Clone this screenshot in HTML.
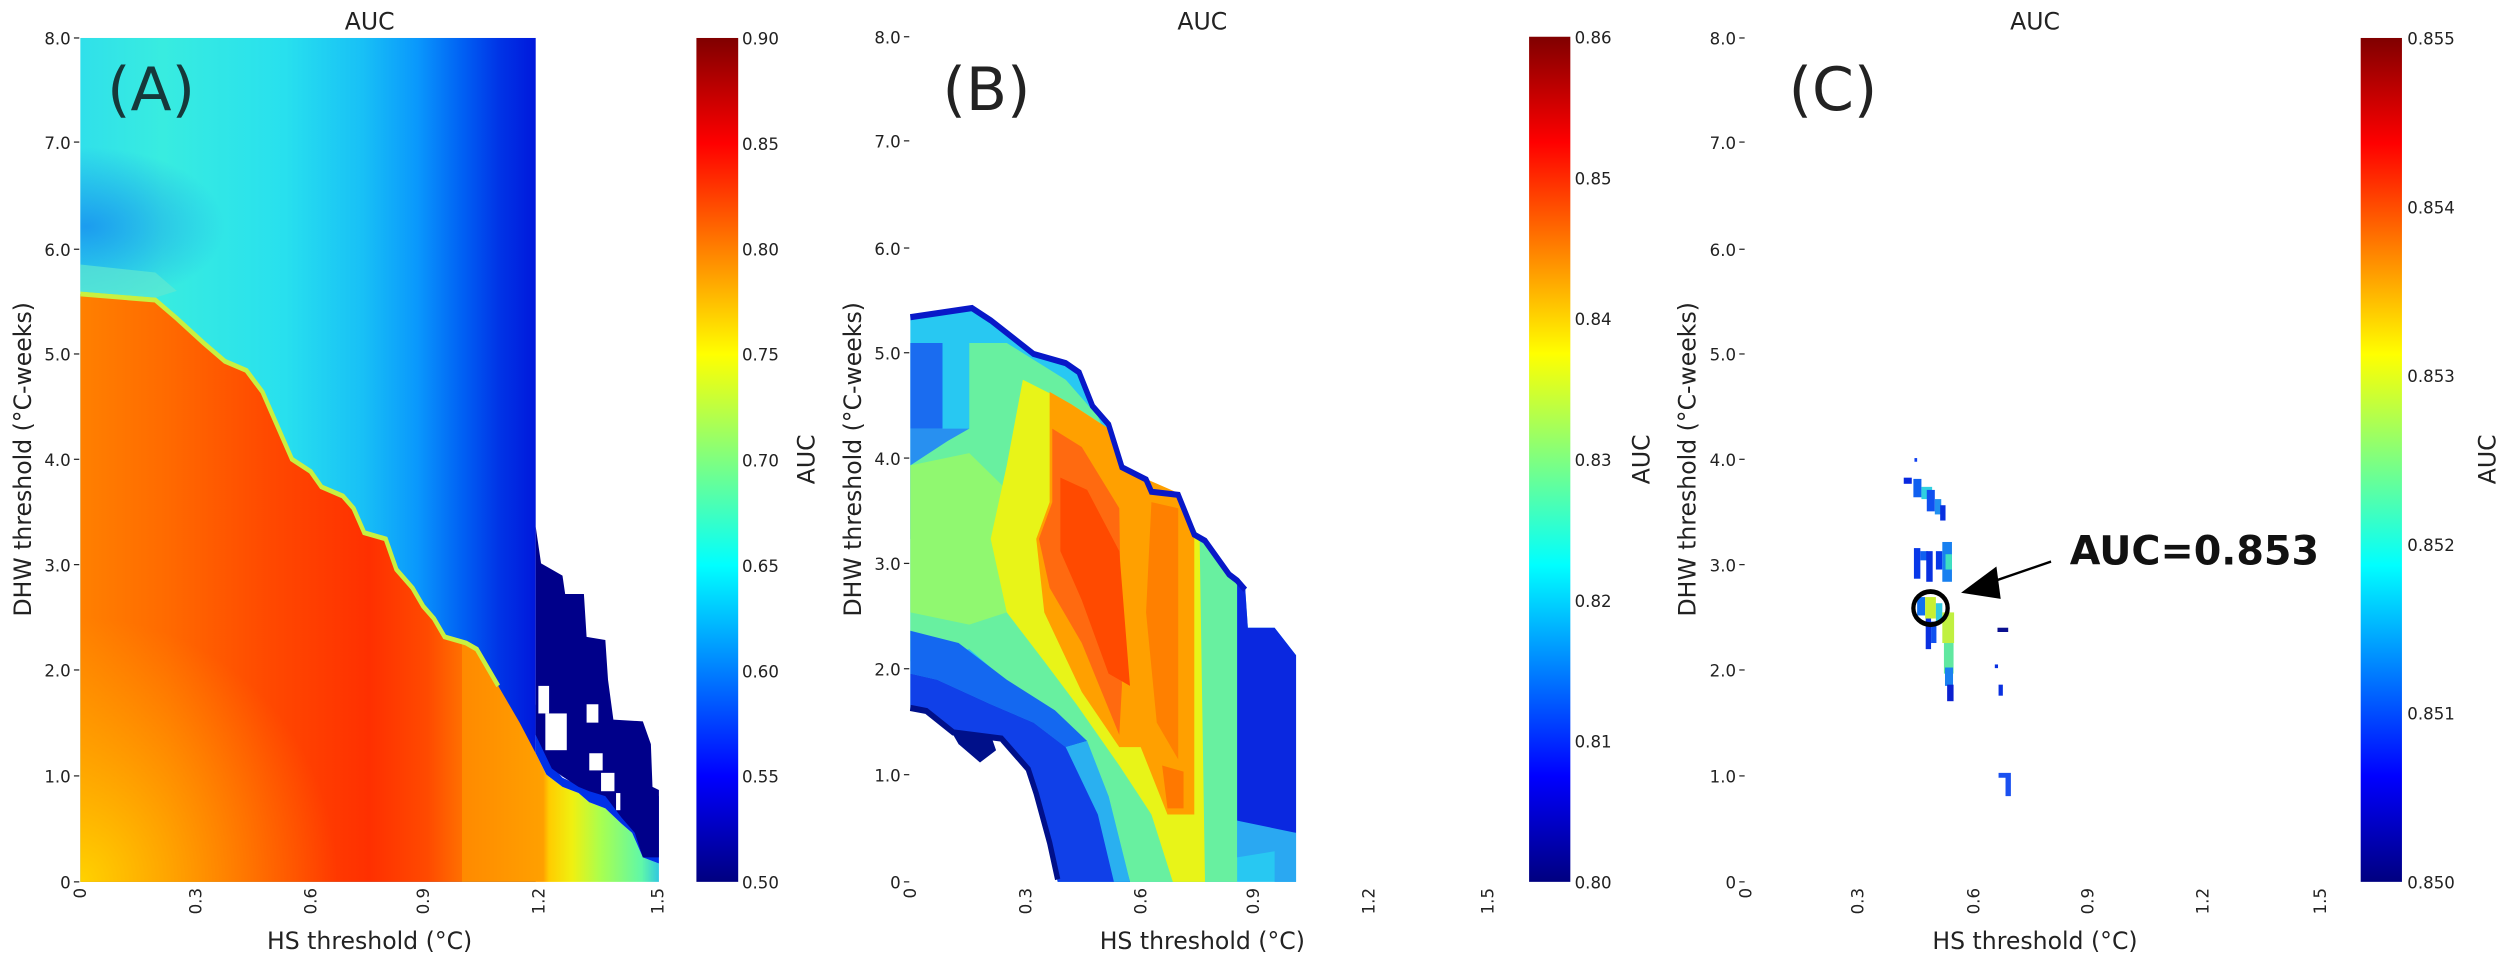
<!DOCTYPE html>
<html><head><meta charset="utf-8"><style>
html,body{margin:0;padding:0;background:#fff;}
svg{display:block;font-family:"DejaVu Sans","Liberation Sans",sans-serif;}
.t{font-size:31px;fill:#222;}
.ax{font-size:44px;fill:#222;}
.e{text-anchor:end;}
.m{text-anchor:middle;}
</style></head><body>
<svg width="2500" height="960" viewBox="0 0 2500 960" xmlns="http://www.w3.org/2000/svg">
<defs>
<linearGradient id="jet" x1="0" y1="0" x2="0" y2="1">
<stop offset="0" stop-color="#800000"/><stop offset="0.125" stop-color="#ff0000"/><stop offset="0.375" stop-color="#ffff00"/><stop offset="0.625" stop-color="#00ffff"/><stop offset="0.875" stop-color="#0000ff"/><stop offset="1" stop-color="#000080"/>
</linearGradient>
<linearGradient id="topA" gradientUnits="userSpaceOnUse" x1="150" y1="0" x2="1000" y2="0">
<stop offset="0" stop-color="#30e0ea"/><stop offset="0.18" stop-color="#38ece0"/><stop offset="0.45" stop-color="#28e0ee"/><stop offset="0.62" stop-color="#18c0f6"/><stop offset="0.74" stop-color="#0a98fc"/><stop offset="0.84" stop-color="#0060f4"/><stop offset="0.92" stop-color="#0034e6"/><stop offset="1" stop-color="#0018dc"/>
</linearGradient>
<radialGradient id="blA" gradientUnits="userSpaceOnUse" cx="160" cy="370" r="260" gradientTransform="translate(160,370) scale(1,0.5) translate(-160,-370)">
<stop offset="0" stop-color="#1890f0" stop-opacity="0.85"/><stop offset="1" stop-color="#1890f0" stop-opacity="0"/>
</radialGradient>
<linearGradient id="orA" gradientUnits="userSpaceOnUse" x1="150" y1="0" x2="1230" y2="0">
<stop offset="0" stop-color="#ff8000"/><stop offset="0.15" stop-color="#ff6a00"/><stop offset="0.32" stop-color="#ff4a00"/><stop offset="0.5" stop-color="#ff3000"/><stop offset="0.6" stop-color="#ff4a00"/><stop offset="0.66" stop-color="#ff7000"/><stop offset="0.66" stop-color="#ff8a00"/><stop offset="0.8" stop-color="#ffa000"/><stop offset="0.81" stop-color="#ffcc00"/><stop offset="0.85" stop-color="#f0f010"/><stop offset="0.9" stop-color="#a8ff50"/><stop offset="0.97" stop-color="#60f8a8"/><stop offset="1" stop-color="#30c8e0"/>
</linearGradient>
<radialGradient id="yelA" gradientUnits="userSpaceOnUse" cx="150" cy="1440" r="480" gradientTransform="translate(150,1440) scale(1,0.9) translate(-150,-1440)">
<stop offset="0" stop-color="#ffe000" stop-opacity="0.85"/><stop offset="0.5" stop-color="#ffc800" stop-opacity="0.45"/><stop offset="1" stop-color="#ffc000" stop-opacity="0"/>
</radialGradient>
</defs>

<!-- Panel A -->
<g transform="scale(0.5357,0.6124)">
<rect x="150" y="62" width="850" height="1378" fill="url(#topA)"/>
<rect x="150" y="200" width="420" height="280" fill="url(#blA)"/>
<polygon fill="url(#orA)" points="150,480 290,490 330,520 380,560 420,590 460,605 490,640 510,680 530,720 545,750 580,770 600,795 640,810 660,830 680,870 720,880 740,930 770,960 790,990 810,1010 830,1040 870,1050 890,1060 910,1090 930,1120 950,1150 970,1180 1000,1230 1020,1265 1050,1285 1080,1295 1100,1310 1130,1320 1160,1345 1180,1360 1200,1400 1230,1410 1230,1440 150,1440"/>
<polyline fill="none" stroke="#c8f040" stroke-width="8" points="150,480 290,490 330,520 380,560 420,590 460,605 490,640 510,680 530,720 545,750 580,770 600,795 640,810 660,830 680,870 720,880 740,930 770,960 790,990 810,1010 830,1040 870,1050 890,1060 910,1090 930,1120"/>
<rect x="150" y="960" width="640" height="480" fill="url(#yelA)"/>
<polygon fill="#60e8d0" opacity="0.7" points="150,432 290,445 330,475 290,486 150,476"/>
<polygon fill="#0030e8" points="1000,1150 1000,1230 1020,1265 1050,1285 1080,1295 1100,1310 1130,1320 1160,1345 1180,1360 1200,1400 1230,1410 1230,1300 1160,1300 1100,1290 1050,1270 1030,1250"/>
<polygon fill="#00008a" points="1000,860 1010,920 1050,940 1055,970 1090,970 1095,1040 1130,1045 1135,1110 1145,1175 1200,1178 1215,1215 1218,1285 1230,1290 1230,1400 1200,1400 1185,1360 1160,1335 1130,1300 1100,1292 1080,1285 1050,1268 1030,1255 1000,1200"/>
<g fill="#fff"><rect x="1005" y="1120" width="20" height="45"/><rect x="1018" y="1165" width="40" height="60"/><rect x="1095" y="1150" width="22" height="30"/><rect x="1100" y="1230" width="25" height="28"/><rect x="1122" y="1262" width="25" height="30"/><rect x="1150" y="1295" width="8" height="28"/></g>
<rect x="1300" y="62" width="78" height="1378" fill="url(#jet)"/>
<g stroke="#222" stroke-width="2"><line x1="138" x2="148" y1="62" y2="62"/><line x1="138" x2="148" y1="232" y2="232"/><line x1="138" x2="148" y1="407" y2="407"/><line x1="138" x2="148" y1="578" y2="578"/><line x1="138" x2="148" y1="750" y2="750"/><line x1="138" x2="148" y1="922" y2="922"/><line x1="138" x2="148" y1="1094" y2="1094"/><line x1="138" x2="148" y1="1267" y2="1267"/><line x1="138" x2="148" y1="1440" y2="1440"/></g>
<text transform="translate(200,180) scale(1,.8748)" font-size="112" fill="#16383a">(A)</text>
<text class="ax m" transform="translate(690,48) scale(1,.8748)" font-size="40">AUC</text>
<g class="t e">
<text transform="translate(132,73) scale(1,.8748)">8.0</text><text transform="translate(132,243) scale(1,.8748)">7.0</text><text transform="translate(132,418) scale(1,.8748)">6.0</text><text transform="translate(132,589) scale(1,.8748)">5.0</text><text transform="translate(132,761) scale(1,.8748)">4.0</text><text transform="translate(132,933) scale(1,.8748)">3.0</text><text transform="translate(132,1105) scale(1,.8748)">2.0</text><text transform="translate(132,1278) scale(1,.8748)">1.0</text><text transform="translate(132,1451) scale(1,.8748)">0</text>
<text transform="translate(161,1450) scale(1,.8748) rotate(-90)">0</text><text transform="translate(376,1450) scale(1,.8748) rotate(-90)">0.3</text><text transform="translate(591,1450) scale(1,.8748) rotate(-90)">0.6</text><text transform="translate(801,1450) scale(1,.8748) rotate(-90)">0.9</text><text transform="translate(1016,1450) scale(1,.8748) rotate(-90)">1.2</text><text transform="translate(1239,1450) scale(1,.8748) rotate(-90)">1.5</text>
</g>
<text class="ax m" transform="translate(690,1550) scale(1,.8748)">HS threshold (°C)</text>
<text class="ax m" transform="translate(58,750) scale(1,.8748) rotate(-90)">DHW threshold (°C-weeks)</text>
<g class="t"><text transform="translate(1385,73) scale(1,.8748)">0.90</text><text transform="translate(1385,245) scale(1,.8748)">0.85</text><text transform="translate(1385,417) scale(1,.8748)">0.80</text><text transform="translate(1385,589) scale(1,.8748)">0.75</text><text transform="translate(1385,762) scale(1,.8748)">0.70</text><text transform="translate(1385,934) scale(1,.8748)">0.65</text><text transform="translate(1385,1106) scale(1,.8748)">0.60</text><text transform="translate(1385,1278) scale(1,.8748)">0.55</text><text transform="translate(1385,1451) scale(1,.8748)">0.50</text></g>
<text class="ax m" transform="translate(1520,750) scale(1,.8748) rotate(-90)">AUC</text>
</g>

<!-- Panel B -->
<g transform="translate(830,0) scale(0.5357,0.6124)">
<polygon fill="#28c8f2" points="150,515 265,500 300,520 380,575 440,590 465,605 490,660 520,690 545,760 590,780 600,800 650,805 680,870 700,880 745,935 760,945 775,960 780,1025 830,1025 870,1070 870,1440 425,1440 410,1380 385,1300 370,1260 320,1210 230,1200 180,1165 150,1160"/>
<polygon fill="#1a6cf0" points="150,560 210,560 210,700 150,700"/>
<polygon fill="#2890f0" points="150,700 260,700 260,900 150,880"/>
<polygon fill="#68f0a0" points="260,560 330,560 440,620 500,680 545,770 650,805 690,880 760,950 760,1440 560,1440 520,1300 440,1190 340,1120 260,1060 150,1080 150,760 220,720 260,700"/>
<polygon fill="#90f870" points="150,760 260,740 330,800 330,1000 260,1020 150,1000"/>
<polygon fill="#1468f0" points="150,1030 240,1050 330,1110 420,1160 480,1210 440,1220 380,1180 300,1150 200,1110 150,1100"/>
<polygon fill="#1040e8" points="150,1100 200,1110 300,1150 380,1180 440,1220 500,1290 540,1380 560,1440 425,1440 410,1380 385,1300 370,1260 320,1210 230,1200 180,1165 150,1160"/>
<polygon fill="#2ab0f0" points="440,1220 480,1210 520,1300 560,1440 530,1440 500,1330"/>
<polygon fill="#e8f418" points="360,620 450,660 520,700 545,770 650,805 690,880 700,1440 640,1440 600,1330 540,1250 460,1150 400,1080 330,1000 300,880 330,760"/>
<polygon fill="#ffa000" points="410,640 450,660 520,700 545,765 650,805 680,880 680,1330 630,1330 580,1220 540,1220 470,1130 400,1000 385,880 410,820"/>
<polygon fill="#ff6a10" points="415,700 470,730 540,830 545,1120 540,1200 470,1050 410,960 390,880 415,820"/>
<polygon fill="#ff4a00" points="430,780 480,800 540,900 560,1120 520,1100 470,980 430,900"/>
<polygon fill="#ff8000" points="600,820 650,830 650,1240 610,1180 590,1000"/>
<polygon fill="#ff7800" points="620,1250 660,1260 660,1320 630,1320"/>
<polygon fill="#0a28e0" points="760,950 775,960 780,1025 830,1025 870,1070 870,1360 830,1360 760,1340"/>
<polygon fill="#2aa8f2" points="760,1340 870,1360 870,1440 830,1440 830,1390 760,1400"/>
<polyline fill="none" stroke="#0818c8" stroke-width="10" points="150,518 265,503 300,523 380,578 440,593 465,608 490,663 520,693 545,763 590,783 600,803 650,808 680,873 700,883 745,938 760,948 775,963"/>
<polyline fill="none" stroke="#00108a" stroke-width="10" points="150,1156 180,1161 230,1196 320,1206 370,1256 385,1296 410,1376 425,1436"/>
<polygon fill="#00108a" points="230,1200 300,1200 310,1225 280,1245 240,1215"/>
<rect x="1305" y="60" width="77" height="1380" fill="url(#jet)"/>
<g stroke="#222" stroke-width="2"><line x1="138" x2="148" y1="60" y2="60"/><line x1="138" x2="148" y1="230" y2="230"/><line x1="138" x2="148" y1="405" y2="405"/><line x1="138" x2="148" y1="576" y2="576"/><line x1="138" x2="148" y1="748" y2="748"/><line x1="138" x2="148" y1="920" y2="920"/><line x1="138" x2="148" y1="1092" y2="1092"/><line x1="138" x2="148" y1="1265" y2="1265"/><line x1="138" x2="148" y1="1440" y2="1440"/></g>
<text transform="translate(210,180) scale(1,.8748)" font-size="112" fill="#222">(B)</text>
<text class="ax m" transform="translate(695,48) scale(1,.8748)" font-size="40">AUC</text>
<g class="t e">
<text transform="translate(132,71) scale(1,.8748)">8.0</text><text transform="translate(132,241) scale(1,.8748)">7.0</text><text transform="translate(132,416) scale(1,.8748)">6.0</text><text transform="translate(132,587) scale(1,.8748)">5.0</text><text transform="translate(132,759) scale(1,.8748)">4.0</text><text transform="translate(132,931) scale(1,.8748)">3.0</text><text transform="translate(132,1103) scale(1,.8748)">2.0</text><text transform="translate(132,1276) scale(1,.8748)">1.0</text><text transform="translate(132,1451) scale(1,.8748)">0</text>
<text transform="translate(161,1450) scale(1,.8748) rotate(-90)">0</text><text transform="translate(376,1450) scale(1,.8748) rotate(-90)">0.3</text><text transform="translate(591,1450) scale(1,.8748) rotate(-90)">0.6</text><text transform="translate(801,1450) scale(1,.8748) rotate(-90)">0.9</text><text transform="translate(1016,1450) scale(1,.8748) rotate(-90)">1.2</text><text transform="translate(1239,1450) scale(1,.8748) rotate(-90)">1.5</text>
</g>
<text class="ax m" transform="translate(695,1550) scale(1,.8748)">HS threshold (°C)</text>
<text class="ax m" transform="translate(58,750) scale(1,.8748) rotate(-90)">DHW threshold (°C-weeks)</text>
<g class="t"><text transform="translate(1390,71) scale(1,.8748)">0.86</text><text transform="translate(1390,301) scale(1,.8748)">0.85</text><text transform="translate(1390,531) scale(1,.8748)">0.84</text><text transform="translate(1390,761) scale(1,.8748)">0.83</text><text transform="translate(1390,991) scale(1,.8748)">0.82</text><text transform="translate(1390,1221) scale(1,.8748)">0.81</text><text transform="translate(1390,1451) scale(1,.8748)">0.80</text></g>
<text class="ax m" transform="translate(1530,750) scale(1,.8748) rotate(-90)">AUC</text>
</g>

<!-- Panel C -->
<g transform="translate(1660,0) scale(0.5357,0.6124)">
<rect x="475" y="748" width="5" height="6" fill="#1040f0"/>
<rect x="455" y="780" width="15" height="10" fill="#0828e0"/>
<rect x="473" y="782" width="15" height="30" fill="#1060f0"/>
<rect x="488" y="795" width="20" height="20" fill="#30d0e0"/>
<rect x="498" y="800" width="15" height="35" fill="#1050f0"/>
<rect x="513" y="815" width="12" height="25" fill="#2090f0"/>
<rect x="523" y="825" width="10" height="25" fill="#0830e0"/>
<rect x="474" y="895" width="12" height="50" fill="#0838e8"/>
<rect x="486" y="900" width="14" height="15" fill="#1060f0"/>
<rect x="497" y="900" width="12" height="50" fill="#0830e0"/>
<rect x="515" y="900" width="12" height="30" fill="#0838e8"/>
<rect x="527" y="885" width="18" height="65" fill="#1880f0"/>
<rect x="533" y="905" width="12" height="25" fill="#40e0c0"/>
<rect x="480" y="975" width="15" height="30" fill="#1070f0"/>
<rect x="495" y="975" width="20" height="35" fill="#c8f030"/>
<rect x="515" y="985" width="12" height="30" fill="#30c8e0"/>
<rect x="496" y="1010" width="10" height="50" fill="#0a30e0"/>
<rect x="506" y="1015" width="10" height="35" fill="#1050f0"/>
<rect x="527" y="1000" width="22" height="50" fill="#c0f040"/>
<rect x="530" y="1050" width="18" height="50" fill="#60e8a0"/>
<rect x="532" y="1090" width="15" height="30" fill="#1a80f0"/>
<rect x="536" y="1118" width="12" height="27" fill="#0a20d0"/>
<rect x="630" y="1025" width="20" height="7" fill="#0a1090"/>
<rect x="632" y="1118" width="8" height="18" fill="#0a30e0"/>
<rect x="625" y="1085" width="6" height="6" fill="#0a30e0"/>
<polygon fill="#1a50f0" points="632,1262 655,1262 655,1300 645,1300 645,1270 632,1270"/>
<ellipse cx="505" cy="993" rx="32" ry="27" fill="none" stroke="#000" stroke-width="8"/>
<line x1="730" y1="917" x2="620" y2="950" stroke="#000" stroke-width="4"/>
<polygon fill="#000" points="562,968 628,925 636,978"/>
<rect x="1308" y="62" width="77" height="1378" fill="url(#jet)"/>
<g stroke="#222" stroke-width="2"><line x1="148" x2="158" y1="62" y2="62"/><line x1="148" x2="158" y1="232" y2="232"/><line x1="148" x2="158" y1="407" y2="407"/><line x1="148" x2="158" y1="578" y2="578"/><line x1="148" x2="158" y1="750" y2="750"/><line x1="148" x2="158" y1="922" y2="922"/><line x1="148" x2="158" y1="1094" y2="1094"/><line x1="148" x2="158" y1="1267" y2="1267"/><line x1="148" x2="158" y1="1440" y2="1440"/></g>
<text transform="translate(765,922) scale(1,.8748)" font-size="74" font-weight="bold" fill="#111">AUC=0.853</text>
<text transform="translate(240,180) scale(1,.8748)" font-size="112" fill="#222">(C)</text>
<text class="ax m" transform="translate(700,48) scale(1,.8748)" font-size="40">AUC</text>
<g class="t e">
<text transform="translate(142,73) scale(1,.8748)">8.0</text><text transform="translate(142,243) scale(1,.8748)">7.0</text><text transform="translate(142,418) scale(1,.8748)">6.0</text><text transform="translate(142,589) scale(1,.8748)">5.0</text><text transform="translate(142,761) scale(1,.8748)">4.0</text><text transform="translate(142,933) scale(1,.8748)">3.0</text><text transform="translate(142,1105) scale(1,.8748)">2.0</text><text transform="translate(142,1278) scale(1,.8748)">1.0</text><text transform="translate(142,1451) scale(1,.8748)">0</text>
<text transform="translate(171,1450) scale(1,.8748) rotate(-90)">0</text><text transform="translate(380,1450) scale(1,.8748) rotate(-90)">0.3</text><text transform="translate(596,1450) scale(1,.8748) rotate(-90)">0.6</text><text transform="translate(809,1450) scale(1,.8748) rotate(-90)">0.9</text><text transform="translate(1024,1450) scale(1,.8748) rotate(-90)">1.2</text><text transform="translate(1243,1450) scale(1,.8748) rotate(-90)">1.5</text>
</g>
<text class="ax m" transform="translate(700,1550) scale(1,.8748)">HS threshold (°C)</text>
<text class="ax m" transform="translate(66,750) scale(1,.8748) rotate(-90)">DHW threshold (°C-weeks)</text>
<g class="t"><text transform="translate(1395,73) scale(1,.8748)">0.855</text><text transform="translate(1395,349) scale(1,.8748)">0.854</text><text transform="translate(1395,624) scale(1,.8748)">0.853</text><text transform="translate(1395,900) scale(1,.8748)">0.852</text><text transform="translate(1395,1175) scale(1,.8748)">0.851</text><text transform="translate(1395,1451) scale(1,.8748)">0.850</text></g>
<text class="ax m" transform="translate(1560,750) scale(1,.8748) rotate(-90)">AUC</text>
</g>
</svg>
</body></html>
